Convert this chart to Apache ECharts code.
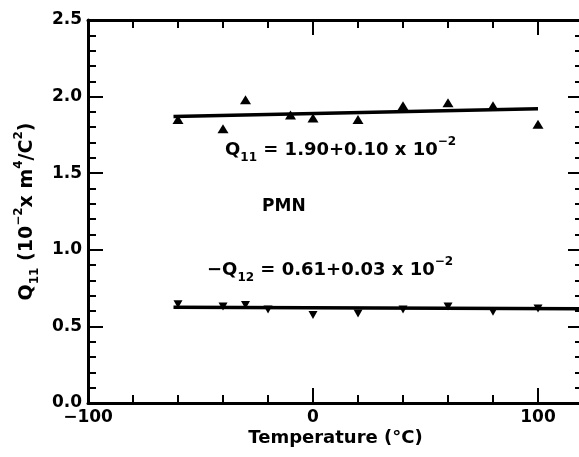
<!DOCTYPE html>
<html>
<head>
<meta charset="utf-8">
<script src="https://cdn.jsdelivr.net/npm/echarts@6/dist/echarts.min.js"></script>
<style>
  html, body { margin: 0; padding: 0; background: #fff; }
  #chart { width: 579px; height: 457px; }
</style>
</head>
<body>
<div id="chart"></div>
<script>
// Q11 points (up triangles)
const tempQ11 = [-60, -40, -30, -10, 0, 20, 40, 60, 80, 100];
const q11 = [1.85, 1.79, 1.98, 1.88, 1.86, 1.85, 1.94, 1.96, 1.94, 1.82];
// -Q12 points (down triangles)
const tempQ12 = [-60, -40, -30, -20, 0, 20, 40, 60, 80, 100];
const q12 = [0.645, 0.63, 0.64, 0.61, 0.575, 0.585, 0.61, 0.63, 0.595, 0.617];
// fitted lines, end points
const fitQ11 = [[-62, 1.87], [100, 1.92]];
const fitQ12 = [[-62, 0.625], [120, 0.615]];

const FONT = 'DejaVu Sans';
const INK = '#000';

const chart = echarts.init(document.getElementById('chart'));

// text styles for sub/superscripts
function richText(size) {
  return {
    m: { fontFamily: FONT, fontWeight: 'bold', fontSize: size, color: INK, lineHeight: 28 },
    sub: { fontFamily: FONT, fontWeight: 'bold', fontSize: 12, color: INK, lineHeight: 14, verticalAlign: 'bottom' },
    sup: { fontFamily: FONT, fontWeight: 'bold', fontSize: 12, color: INK, lineHeight: 14, verticalAlign: 'top' }
  };
}
const rich = richText(18);

const tickLine = { color: INK, width: 2 };
const axisLine = { show: true, onZero: false, lineStyle: { color: INK, width: 3 } };

// x axis: short ticks every 20, long ticks every 100 (second axis)
function xAxisPair(pos) {
  return [
    {
      type: 'value', position: pos, min: -100, max: 120, interval: 20,
      axisLine: axisLine,
      axisTick: { inside: true, length: 8, lineStyle: tickLine },
      axisLabel: { show: false },
      splitLine: { show: false }
    },
    {
      type: 'value', position: pos, min: -100, max: 120, interval: 100,
      axisLine: { show: false, onZero: false },
      axisTick: { inside: true, length: 15, lineStyle: tickLine },
      axisLabel: { show: false },
      splitLine: { show: false }
    }
  ];
}

const xAxes = xAxisPair('bottom').concat(xAxisPair('top'));
xAxes[0].name = 'Temperature (°C)';
xAxes[0].nameLocation = 'middle';
xAxes[0].nameGap = 26;
xAxes[0].nameTextStyle = { fontFamily: FONT, fontWeight: 'bold', fontSize: 18, color: INK };
xAxes[1].axisLabel = {
  show: true, margin: 6, color: INK, fontFamily: FONT, fontWeight: 'bold', fontSize: 17,
  formatter: v => v > 100 ? '' : (v < 0 ? '\u2212' + Math.abs(v) : String(v))
};

function yAxisDef(pos, labels) {
  return {
    type: 'value', position: pos, min: 0, max: 2.5, interval: 0.5,
    axisLine: labels ? axisLine : { show: false, onZero: false },
    axisTick: { inside: true, length: 15, lineStyle: tickLine },
    minorTick: { show: true, splitNumber: 5, length: 8, lineStyle: tickLine },
    splitLine: { show: false },
    axisLabel: {
      show: labels, margin: 6, color: INK, fontFamily: FONT, fontWeight: 'bold', fontSize: 17,
      formatter: v => v.toFixed(1)
    }
  };
}

const yLeft = yAxisDef('left', true);
yLeft.name = '{m|Q}{sub|11}{m| (10}{sup|\u22122}{m|x m}{sup|4}{m|/C}{sup|2}{m|)}';
yLeft.nameLocation = 'middle';
yLeft.nameRotate = 90;
yLeft.nameGap = 42;
yLeft.nameTextStyle = { rich: richText(19) };

const option = {
  animation: false,
  backgroundColor: '#fff',
  // right edge (x = 120) sits just past the canvas, as in the scan
  grid: { left: 88, width: 495, top: 20, bottom: 54, outerBoundsMode: 'none' },
  xAxis: xAxes,
  yAxis: [yLeft, yAxisDef('right', false)],
  series: [
    {
      type: 'line', data: fitQ11, showSymbol: false, z: 2,
      lineStyle: { color: INK, width: 3.5 }
    },
    {
      type: 'line', data: fitQ12, showSymbol: false, z: 2,
      lineStyle: { color: INK, width: 3.5 }
    },
    {
      type: 'scatter', z: 3,
      data: tempQ11.map((t, i) => [t, q11[i]]),
      symbol: 'triangle', symbolSize: [11, 9],
      itemStyle: { color: INK, opacity: 1 }
    },
    {
      type: 'scatter', z: 3,
      data: tempQ12.map((t, i) => [t, q12[i]]),
      symbol: 'triangle', symbolRotate: 180, symbolSize: [9, 8],
      itemStyle: { color: INK, opacity: 1 }
    }
  ],
  graphic: [
    {
      type: 'text', left: 225, top: 136,
      style: { text: '{m|Q}{sub|11}{m| = 1.90+0.10 x 10}{sup|\u22122}', rich: rich }
    },
    {
      type: 'text', left: 262, top: 198,
      style: { text: 'PMN', fontFamily: FONT, fontWeight: 'bold', fontSize: 17, fill: INK }
    },
    {
      type: 'text', left: 207, top: 256,
      style: { text: '{m|\u2212Q}{sub|12}{m| = 0.61+0.03 x 10}{sup|\u22122}', rich: rich }
    }
  ]
};

chart.setOption(option);
</script>
</body>
</html>
